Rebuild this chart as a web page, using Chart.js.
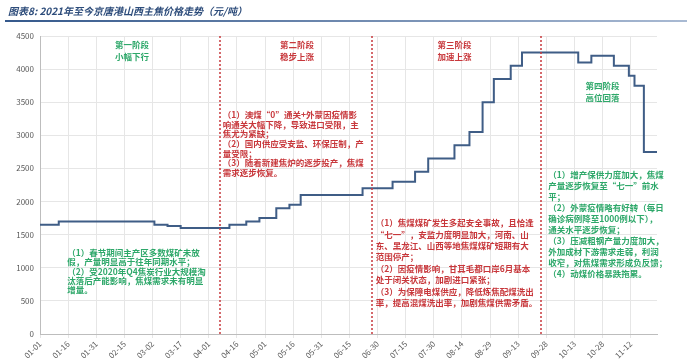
<!DOCTYPE html>
<html>
<head>
<meta charset="utf-8">
<script src="https://cdn.jsdelivr.net/npm/chart.js@4.4.1/dist/chart.umd.min.js"></script>
<style>
html, body { margin: 0; padding: 0; background: #fff; }
</style>
</head>
<body>
<canvas id="cokeChart" width="692" height="363"></canvas>
<script>
// x axis tick labels, one every 15 days
const tickLabels = ['01-01', '01-16', '01-31', '02-15', '03-02', '03-17', '04-01', '04-16', '05-01', '05-16', '05-31',
    '06-15', '06-30', '07-15', '07-30', '08-14', '08-29', '09-13', '09-28', '10-13', '10-28', '11-12'];

// price changes: each price holds from its date until the next one
const stepDates = ['01-01', '01-11', '03-03', '03-10', '03-17', '04-12', '04-21', '04-28', '05-07', '05-14', '05-20',
    '06-22', '07-08', '07-20', '07-27', '08-10', '08-18', '08-25', '08-31', '09-09', '09-15', '10-15', '10-22',
    '11-03', '11-11', '11-14', '11-19', '11-26'];
const stepPrices = [1650, 1700, 1650, 1630, 1600, 1650, 1700, 1750, 1900, 1950, 2100,
    2200, 2300, 2450, 2650, 2850, 3050, 3500, 3850, 4050, 4250, 4100, 4200,
    4050, 3900, 3750, 2750, 2750];

const phaseBreaks = ['04-07', '06-27', '09-25'];
const phaseNames = [['第一阶段', '小幅下行'], ['第二阶段', '稳步上涨'], ['第三阶段', '加速上涨'], ['第四阶段', '高位回落']];
const phaseNotes = [
    ['（1）春节期间主产区多数煤矿未放', '假，产量明显高于往年同期水平；', '（2）受2020年Q4焦炭行业大规模淘',
        '汰落后产能影响，焦煤需求未有明显', '增量。'],
    ['（1）澳煤“0”通关+外蒙因疫情影', '响通关大幅下降，导致进口受限，主', '焦尤为紧缺；', '（2）国内供应受安监、环保压制，产',
        '量受限；', '（3）随着新建焦炉的逐步投产，焦煤', '需求逐步恢复。'],
    ['（1）焦煤煤矿发生多起安全事故，且恰逢', '“七一”，安监力度明显加大，河南、山', '东、黑龙江、山西等地焦煤煤矿短期有大',
        '范围停产；', '（2）因疫情影响，甘其毛都口岸6月基本', '处于闭关状态，加剧进口紧张；',
        '（3）为保障电煤供应，降低炼焦配煤洗出', '率，提高混煤洗出率，加剧焦煤供需矛盾。'],
    ['（1）增产保供力度加大，焦煤', '产量逐步恢复至“七一”前水', '平；', '（2）外蒙疫情略有好转（每日',
        '确诊病例降至1000例以下），', '通关水平逐步恢复；', '（3）压减粗钢产量力度加大，', '外加成材下游需求走弱，利润',
        '收窄，对焦煤需求形成负反馈；', '（4）动煤价格暴跌拖累。']
];

function dayOf(mmdd) {
    const [m, d] = mmdd.split('-').map(Number);
    return Math.round((Date.UTC(2021, m - 1, d) - Date.UTC(2021, 0, 1)) / 864e5);
}

const RED = '#c8383c';
const GREEN = '#2ea86a';
const FONT = '"Noto Sans CJK SC", "Noto Sans", sans-serif';

const notesPlugin = {
    id: 'notes',
    afterDatasetsDraw(chart) {
        const { ctx, chartArea: a, scales: { x } } = chart;
        ctx.save();
        ctx.strokeStyle = RED;
        ctx.lineWidth = 1.5;
        ctx.setLineDash([2, 2]);
        phaseBreaks.forEach(d => {
            const px = Math.round(x.getPixelForValue(dayOf(d)));
            ctx.beginPath();
            ctx.moveTo(px, a.top);
            ctx.lineTo(px, a.bottom);
            ctx.stroke();
        });
        ctx.restore();
    },
    afterDraw(chart) {
        const { ctx, chartArea: a, scales: { x } } = chart;
        ctx.save();

        // title + rule
        ctx.font = 'italic bold 10px ' + FONT;
        ctx.fillStyle = '#2e4d7b';
        ctx.textBaseline = 'middle';
        ctx.textAlign = 'left';
        ctx.fillText('图表8: 2021年至今京唐港山西主焦价格走势（元/吨）', 8, 11);
        const g = ctx.createLinearGradient(5, 0, 687, 0);
        g.addColorStop(0, '#35598c');
        g.addColorStop(1, '#a9bad3');
        ctx.fillStyle = g;
        ctx.fillRect(5, 20, 682, 2);

        // phase headings
        const headDays = [49, 137, 221, 300];
        const headTops = [9, 9, 9, 50];
        const colors = [GREEN, RED, RED, GREEN];
        ctx.font = 'bold 8.5px ' + FONT;
        ctx.textAlign = 'center';
        phaseNames.forEach((lines, i) => {
            ctx.fillStyle = colors[i];
            const cx = x.getPixelForValue(headDays[i]);
            lines.forEach((t, j) => ctx.fillText(t, cx, a.top + headTops[i] + j * 12));
        });

        // phase notes
        const noteDays = [14.5, 97.5, 179, 271];
        const noteTops = [217, 79, 187, 139];
        const lineH = [9.2, 9.6, 11.4, 11];
        ctx.textAlign = 'left';
        phaseNotes.forEach((lines, i) => {
            ctx.fillStyle = colors[i];
            const lx = x.getPixelForValue(noteDays[i]);
            lines.forEach((t, j) => ctx.fillText(t, lx, a.top + noteTops[i] + j * lineH[i]));
        });
        ctx.restore();
    }
};

new Chart(document.getElementById('cokeChart'), {
    type: 'line',
    data: {
        datasets: [{
            label: '山西主焦',
            data: stepDates.map((d, i) => ({ x: dayOf(d), y: stepPrices[i] })),
            borderColor: '#3f5d86',
            borderWidth: 2,
            pointRadius: 0,
            stepped: true,
            fill: false
        }]
    },
    options: {
        responsive: false,
        animation: false,
        layout: { padding: { top: 36, right: 35, bottom: 0, left: 0 } },
        plugins: {
            legend: { display: false },
            tooltip: { enabled: false }
        },
        scales: {
            x: {
                type: 'linear',
                min: 0,
                max: 329,
                afterFit: s => { s.height = 29; },
                ticks: {
                    stepSize: 15,
                    includeBounds: false,
                    autoSkip: false,
                    minRotation: 45,
                    maxRotation: 45,
                    color: '#595959',
                    font: { size: 8, family: FONT },
                    padding: 1,
                    callback: v => tickLabels[Math.round(v / 15)] ?? ''
                },
                grid: { color: '#e6e6e6', tickLength: 4 },
                border: { color: '#bdbdbd' }
            },
            y: {
                min: 0,
                max: 4500,
                afterFit: s => { s.width = 40; },
                ticks: {
                    stepSize: 500,
                    color: '#595959',
                    font: { size: 8, family: FONT },
                    padding: 6,
                    callback: v => String(v)
                },
                grid: { color: '#e6e6e6', tickLength: 0 },
                border: { color: '#bdbdbd' }
            }
        }
    },
    plugins: [notesPlugin]
});
</script>
</body>
</html>
